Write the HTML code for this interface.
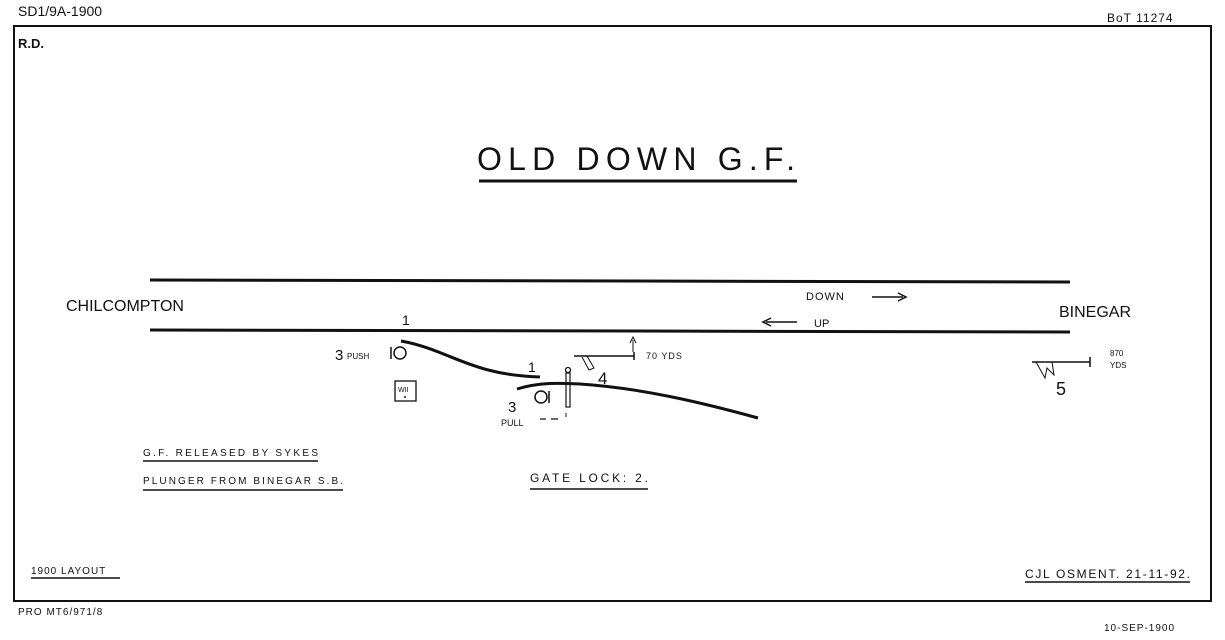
<!DOCTYPE html>
<html><head><meta charset="utf-8"><style>
html,body{margin:0;padding:0;background:#fff;}
svg{display:block;}
text{font-family:"Liberation Sans",sans-serif;fill:#111;}
</style></head><body>
<svg width="1225" height="640" viewBox="0 0 1225 640" xmlns="http://www.w3.org/2000/svg">
<rect x="0" y="0" width="1225" height="640" fill="#fff"/>
<text x="18" y="16" font-size="14">SD1/9A-1900</text>
<text x="1107" y="22" font-size="12" letter-spacing="1">BoT 11274</text>
<rect x="14" y="26" width="1197" height="575" fill="none" stroke="#111" stroke-width="2"/>
<text x="18" y="48" font-size="13" font-weight="bold">R.D.</text>
<text x="477" y="170" font-size="32" textLength="318" lengthAdjust="spacing">OLD DOWN G.F.</text>
<line x1="479" y1="181" x2="797" y2="181" stroke="#111" stroke-width="3"/>
<line x1="150" y1="280" x2="1070" y2="282" stroke="#111" stroke-width="3"/>
<line x1="150" y1="330" x2="1070" y2="332" stroke="#111" stroke-width="3"/>
<text x="66" y="311" font-size="16">CHILCOMPTON</text>
<text x="1059" y="317" font-size="16">BINEGAR</text>
<text x="806" y="300" font-size="11" letter-spacing="1">DOWN</text>
<line x1="872" y1="297" x2="903" y2="297" stroke="#111" stroke-width="1.5"/>
<path d="M898 293 L906 297 L898 301" fill="none" stroke="#111" stroke-width="1.5"/>
<line x1="766" y1="322" x2="797" y2="322" stroke="#111" stroke-width="1.5"/>
<path d="M771 318 L763 322 L771 326" fill="none" stroke="#111" stroke-width="1.5"/>
<text x="814" y="327" font-size="11">UP</text>
<text x="402" y="325" font-size="14">1</text>
<path d="M401 341 C450 350 470 375 540 377" fill="none" stroke="#111" stroke-width="3"/>
<text x="528" y="372" font-size="14">1</text>
<path d="M517 389 C540 382 560 383 580 384 C640 388 700 402 758 418" fill="none" stroke="#111" stroke-width="3"/>
<text x="335" y="360" font-size="15">3</text>
<text x="347" y="359" font-size="8">PUSH</text>
<line x1="391" y1="347" x2="391" y2="359" stroke="#111" stroke-width="1.5"/>
<circle cx="400" cy="353" r="6" fill="none" stroke="#111" stroke-width="1.5"/>
<rect x="395" y="381" width="21" height="20" fill="none" stroke="#111" stroke-width="1.3"/>
<text x="398" y="392" font-size="7">WII</text>
<circle cx="405" cy="397" r="1" fill="#111"/>
<text x="508" y="412" font-size="15">3</text>
<text x="501" y="426" font-size="9">PULL</text>
<circle cx="541" cy="397" r="6" fill="none" stroke="#111" stroke-width="1.5"/>
<line x1="549" y1="391" x2="549" y2="403" stroke="#111" stroke-width="1.5"/>
<path d="M540 419 L546 419 M551 419 L558 419" stroke="#111" stroke-width="1.3"/>
<line x1="566" y1="413" x2="566" y2="417" stroke="#111" stroke-width="1"/>
<circle cx="568" cy="370" r="2.5" fill="none" stroke="#111" stroke-width="1.3"/>
<rect x="566" y="373" width="4" height="34" fill="none" stroke="#111" stroke-width="1.2"/>
<line x1="574" y1="356" x2="634" y2="356" stroke="#111" stroke-width="1.5"/>
<line x1="634" y1="352" x2="634" y2="360" stroke="#111" stroke-width="1.5"/>
<path d="M582 357 L589 370 L594 368 L587 356" fill="none" stroke="#111" stroke-width="1"/>
<text x="598" y="384" font-size="17">4</text>
<line x1="633" y1="340" x2="633" y2="352" stroke="#111" stroke-width="1"/>
<path d="M630 343 L633 337 L636 343" fill="none" stroke="#111" stroke-width="1"/>
<text x="646" y="359" font-size="9" letter-spacing="1">70 YDS</text>
<line x1="1032" y1="362" x2="1090" y2="362" stroke="#111" stroke-width="1.5"/>
<line x1="1090" y1="357" x2="1090" y2="367" stroke="#111" stroke-width="1.5"/>
<path d="M1036 362 L1045 378 L1047 368 L1054 375 L1052 362" fill="none" stroke="#111" stroke-width="1"/>
<text x="1056" y="395" font-size="18">5</text>
<text x="1110" y="356" font-size="8">870</text>
<text x="1110" y="368" font-size="8">YDS</text>
<text x="143" y="456" font-size="10" textLength="175" lengthAdjust="spacing">G.F. RELEASED BY SYKES</text>
<line x1="143" y1="461" x2="318" y2="461" stroke="#111" stroke-width="1.5"/>
<text x="143" y="484" font-size="10" textLength="200" lengthAdjust="spacing">PLUNGER FROM BINEGAR S.B.</text>
<line x1="143" y1="490" x2="343" y2="490" stroke="#111" stroke-width="1.5"/>
<text x="530" y="482" font-size="12" textLength="118" lengthAdjust="spacing">GATE LOCK: 2.</text>
<line x1="530" y1="489" x2="648" y2="489" stroke="#111" stroke-width="1.5"/>
<text x="31" y="574" font-size="10" letter-spacing="1">1900 LAYOUT</text>
<line x1="31" y1="578" x2="120" y2="578" stroke="#111" stroke-width="1.5"/>
<text x="1025" y="578" font-size="12" textLength="165" lengthAdjust="spacing">CJL OSMENT. 21-11-92.</text>
<line x1="1025" y1="582" x2="1190" y2="582" stroke="#111" stroke-width="1.5"/>
<text x="18" y="615" font-size="10" letter-spacing="1">PRO MT6/971/8</text>
<text x="1104" y="631" font-size="10" letter-spacing="1">10-SEP-1900</text>
</svg>
</body></html>
